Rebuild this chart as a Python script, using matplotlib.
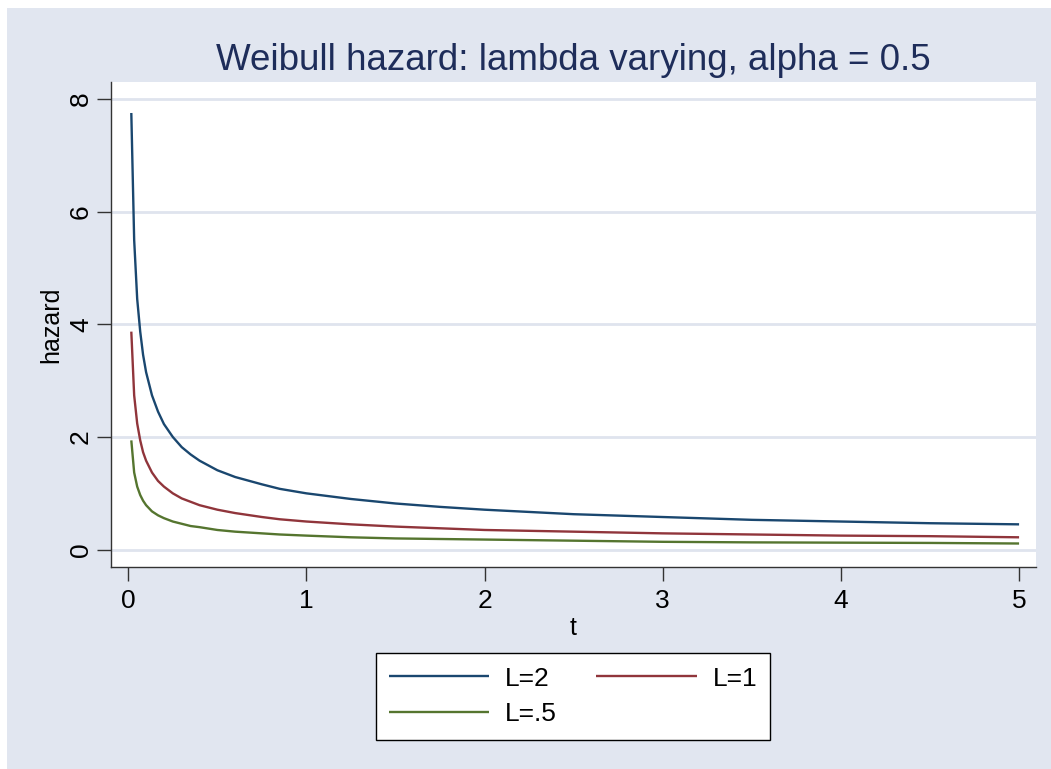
import matplotlib
matplotlib.use("Agg")
import matplotlib.pyplot as plt
from matplotlib.patches import Rectangle

# ---- data ----
t = [0.017, 0.033, 0.05, 0.067, 0.083, 0.1, 0.133, 0.167, 0.2, 0.25, 0.3, 0.35,
     0.4, 0.5, 0.6, 0.75, 0.85, 1.0, 1.25, 1.5, 1.75, 2.0, 2.5, 3.0, 3.5, 4.0, 4.5, 5.0]
h_L2 = [7.75, 5.5, 4.45, 3.87, 3.46, 3.15, 2.74, 2.45, 2.23, 2.0, 1.82, 1.69,
        1.58, 1.41, 1.29, 1.16, 1.08, 1.0, 0.9, 0.82, 0.76, 0.71, 0.63, 0.58, 0.53, 0.5, 0.47, 0.45]
h_L1 = [3.87, 2.74, 2.24, 1.94, 1.73, 1.58, 1.37, 1.22, 1.12, 1.0, 0.91, 0.85,
        0.79, 0.71, 0.65, 0.58, 0.54, 0.5, 0.45, 0.41, 0.38, 0.35, 0.32, 0.29, 0.27, 0.25, 0.24, 0.22]
h_L05 = [1.94, 1.37, 1.12, 0.97, 0.87, 0.79, 0.68, 0.61, 0.56, 0.5, 0.46, 0.42,
         0.4, 0.35, 0.32, 0.29, 0.27, 0.25, 0.22, 0.2, 0.19, 0.18, 0.16, 0.14, 0.13, 0.125, 0.12, 0.11]
labels = ["L=2", "L=1", "L=.5"]
xticks = [0, 1, 2, 3, 4, 5]
yticks = [0, 2, 4, 6, 8]
title = "Weibull hazard: lambda varying, alpha = 0.5"

plt.rcParams['font.family'] = ['Liberation Sans', 'DejaVu Sans']

W, H = 1051, 769
fig = plt.figure(figsize=(W / 100, H / 100), dpi=100)
fig.patch.set_facecolor('white')
bg = '#E1E6F0'
fig.patches.append(Rectangle((7 / W, 0), 1 - 7 / W, 1 - 8 / H, transform=fig.transFigure,
                             facecolor=bg, edgecolor='none', zorder=-10))

ax = fig.add_axes([111 / W, 1 - 567 / H, (1036 - 111) / W, (567 - 82) / H])
ax.set_facecolor('white')

colors = ['#1A476F', '#90353B', '#55752F']
lines = []
for y, c, lab in zip([h_L2, h_L1, h_L05], colors, labels):
    ln, = ax.plot(t, y, color=c, lw=1.7, label=lab, solid_capstyle='butt')
    lines.append(ln)

ax.set_xlim(-0.097, 5.095)
ax.set_ylim(-0.307, 8.30)
ax.set_xticks(xticks)
ax.set_yticks(yticks)
ax.set_yticklabels([str(v) for v in yticks], rotation=90, va='center')
ax.grid(axis='y', color='#DFE4EE', lw=2)
ax.set_axisbelow(True)
for s in ['top', 'right']:
    ax.spines[s].set_visible(False)
for s in ['left', 'bottom']:
    ax.spines[s].set_color('#333333')
    ax.spines[s].set_linewidth(1.0)
ax.tick_params(axis='both', length=10, width=1, color='#333333', labelsize=19, pad=6)
ax.tick_params(axis='y', pad=3)

ax.set_xlabel('t', fontsize=18, labelpad=2)
ax.set_ylabel('hazard', fontsize=18, labelpad=4)
ax.set_title(title, fontsize=26.5, color='#1E2D5A', pad=9)

order = [0, 2, 1]
leg = fig.legend([lines[i] for i in order], [labels[i] for i in order],
                 loc='center', bbox_to_anchor=((377 + 769) / 2 / W, 1 - (653 + 740) / 2 / H),
                 ncol=2, fontsize=19, frameon=True, fancybox=False, handlelength=3.8,
                 columnspacing=1.5, handletextpad=0.6, borderpad=0.5, labelspacing=0.45,
                 borderaxespad=0)
leg.get_frame().set_edgecolor('black')
leg.get_frame().set_facecolor('white')
leg.get_frame().set_alpha(1)
leg.get_frame().set_linewidth(1.0)

fig.savefig('out.png', dpi=100, facecolor=fig.get_facecolor())
